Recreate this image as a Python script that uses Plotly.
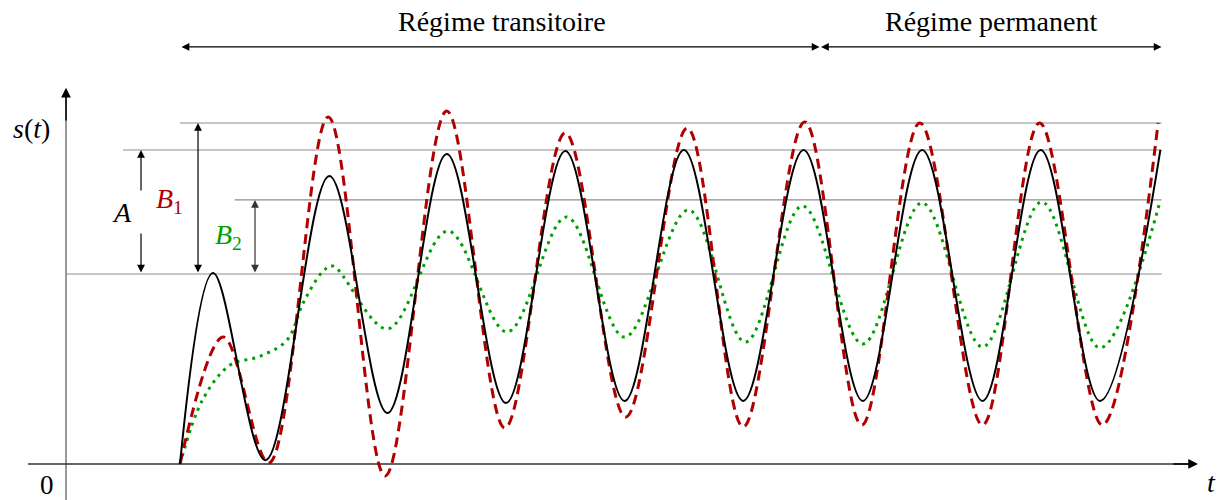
import plotly.graph_objects as go

# Step responses of three second-order systems to a sinusoidal input
# (time t, output s(t)); points are the turning points of each curve
t_black = [1.00, 1.29, 1.75, 2.31, 2.82, 3.34, 3.86, 4.38, 4.90, 5.42, 5.94,
           6.47, 6.99, 7.51, 8.04, 8.55, 9.07, 9.60]
s_black = [0.00, 1.005, 0.02, 1.516, 0.268, 1.632, 0.321, 1.647, 0.332, 1.653,
           0.332, 1.653, 0.332, 1.653, 0.332, 1.653, 0.332, 1.653]

t_red = [1.00, 1.38, 1.78, 2.30, 2.80, 3.34, 3.85, 4.38, 4.91, 5.45, 5.94,
         6.48, 6.98, 7.49, 8.04, 8.54, 9.09, 9.58]
s_red = [0.00, 0.668, 0.005, 1.826, -0.063, 1.858, 0.189, 1.742, 0.247, 1.768,
         0.195, 1.800, 0.205, 1.795, 0.205, 1.795, 0.205, 1.795]

t_green = [1.00, 1.20, 1.44, 1.70, 1.94, 2.08, 2.25, 2.34, 2.82,
           3.35, 3.87, 4.39, 4.90, 5.46, 5.96, 6.46, 6.99, 7.51, 8.04, 8.56,
           9.07, 9.60]
s_green = [0.00, 0.34, 0.521, 0.566, 0.653, 0.847, 1.011, 1.042,
           0.711, 1.226, 0.695, 1.300, 0.668, 1.337, 0.642, 1.358, 0.632, 1.374,
           0.616, 1.379, 0.611, 1.389]

# Reference levels: final value, peaks of A, B1 and B2
level_final = 1.0
level_A = 1.653
level_B1 = 1.795
level_B2 = 1.39

# Time markers
t_start = 1.0
t_switch = 6.61
t_end = 9.61

X0, X1 = -0.579, 10.158
Y0, Y1 = -0.1895, 2.442

fig = go.Figure()

# Horizontal guide lines
guides = [
    (t_start, level_B1, "#b3b3b3", 1.5),
    (0.5, level_A, "#b3b3b3", 1.5),
    (1.48, level_B2, "#8c8c8c", 1.2),
    (0.0, level_final, "#b3b3b3", 1.5),
]
for x_from, lvl, col, w in guides:
    fig.add_trace(go.Scatter(x=[x_from, t_end], y=[lvl, lvl], mode="lines",
                             line=dict(color=col, width=w), hoverinfo="skip",
                             showlegend=False))

# Axes
fig.add_trace(go.Scatter(x=[0, 0], y=[Y0, 1.96], mode="lines",
                         line=dict(color="#777777", width=1.5),
                         hoverinfo="skip", showlegend=False))
fig.add_trace(go.Scatter(x=[-0.333, 9.91], y=[0, 0], mode="lines",
                         line=dict(color="#333333", width=1.6),
                         hoverinfo="skip", showlegend=False))

# Curves
fig.add_trace(go.Scatter(x=t_green, y=s_green, mode="lines",
                         line=dict(color="#00a000", width=3, dash="3px,5px",
                                   shape="spline", smoothing=1),
                         hoverinfo="skip", showlegend=False))
fig.add_trace(go.Scatter(x=t_red, y=s_red, mode="lines",
                         line=dict(color="#b00000", width=3, dash="10px,6px",
                                   shape="spline", smoothing=1),
                         hoverinfo="skip", showlegend=False))
fig.add_trace(go.Scatter(x=t_black, y=s_black, mode="lines",
                         line=dict(color="black", width=2,
                                   shape="spline", smoothing=1),
                         hoverinfo="skip", showlegend=False))

annotations = []


def arrow(x0, y0, x1, y1, both=True, color="black", width=1.2):
    annotations.append(dict(
        x=x1, y=y1, ax=x0, ay=y0, xref="x", yref="y", axref="x", ayref="y",
        text="", showarrow=True, arrowhead=2, startarrowhead=2,
        arrowsize=1.3, startarrowsize=1.3, arrowwidth=width,
        arrowcolor=color, arrowside="end+start" if both else "end",
        standoff=0, startstandoff=0))


# Axis arrowheads
arrow(0, 1.8, 0, 1.98, both=False, width=1.5)
arrow(9.7, 0, 9.93, 0, both=False, width=1.5)

# Amplitude markers
arrow(0.658, level_final, 0.658, level_A)
arrow(1.158, level_final, 1.158, level_B1)
arrow(1.658, level_final, 1.658, level_B2, color="#333333")

# Regime spans
span_y = 2.195
arrow(t_start, span_y, t_switch, span_y)
arrow(t_switch, span_y, t_end, span_y)

FONT = "Liberation Serif"


def label(x, y, text, size=28, color="black", **box):
    annotations.append(dict(x=x, y=y, xref="x", yref="y", text=text,
                            showarrow=False, xanchor="center", yanchor="middle",
                            font=dict(family=FONT, size=size, color=color),
                            **box))


label(3.825, 2.33, "Régime transitoire", size=28)
label(8.114, 2.33, "Régime permanent", size=28)
label(-0.30, 1.768, "<i>s</i>(<i>t</i>)", size=28)
# white box behind A leaves a break in the A arrow
label(0.491, 1.326, "<i>A</i>", size=28, bgcolor="white", width=40, height=40)
label(0.912, 1.389, "<i>B</i><sub>1</sub>", size=28, color="#b00000")
label(1.421, 1.195, "<i>B</i><sub>2</sub>", size=28, color="#00a000")
label(-0.167, -0.111, "0", size=27)
label(10.05, -0.095, "<i>t</i>", size=28)

fig.update_layout(
    width=1224, height=500,
    margin=dict(l=0, r=0, t=0, b=0),
    paper_bgcolor="white", plot_bgcolor="white",
    font=dict(family=FONT),
    xaxis=dict(range=[X0, X1], visible=False, fixedrange=True),
    yaxis=dict(range=[Y0, Y1], visible=False, fixedrange=True),
    annotations=annotations,
    showlegend=False,
)

fig.write_html("out.html")
